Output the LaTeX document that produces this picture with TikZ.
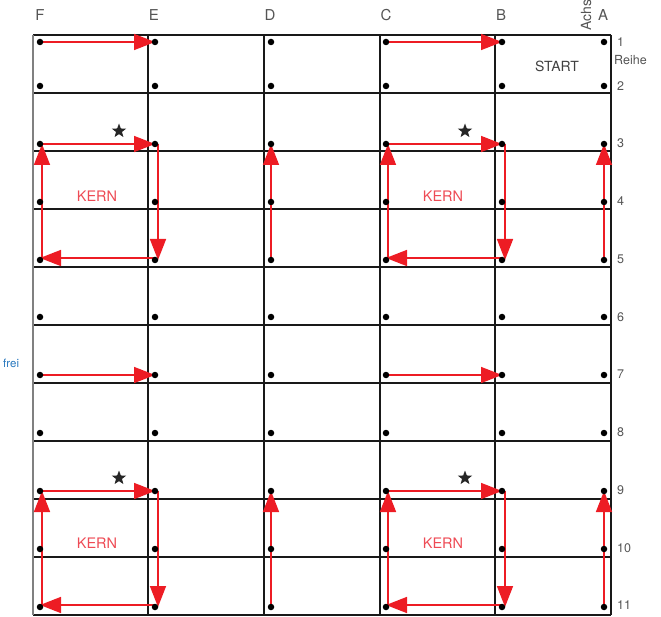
\documentclass[tikz,border=0pt]{standalone}
\usepackage{fontspec}
\setmainfont{TeX Gyre Heros}
\usetikzlibrary{arrows.meta,shapes.geometric}
\pgfdeclarelayer{gridlayer}
\pgfdeclarelayer{arrowlayer}
\pgfsetlayers{gridlayer,arrowlayer,main}
\definecolor{arrred}{RGB}{237,28,36}
\definecolor{kernred}{RGB}{238,75,85}
\definecolor{lblgray}{RGB}{85,85,85}
\definecolor{freiblue}{RGB}{40,120,190}
\begin{document}
\begin{tikzpicture}[x=1pt,y=-1pt,
  dot/.style={circle,fill=black,inner sep=0pt,minimum size=6.5pt},
  arr/.style={draw=arrred,line width=1.6pt,-{Triangle[length=21pt,width=16pt]}},
  gridline/.style={line width=1.7pt,black!90},
  collbl/.style={font=\fontsize{15}{15}\selectfont,text=lblgray},
  rowlbl/.style={font=\fontsize{12.5}{12.5}\selectfont,text=lblgray,anchor=west,inner sep=0pt},
  kern/.style={font=\fontsize{14.5}{14.5}\selectfont,text=kernred},
  starmark/.style={star,star points=5,star point ratio=2.4,minimum size=15pt,inner sep=0pt,fill=black!85}]
\useasboundingbox (0,0) rectangle (661,617);

% grid
\begin{pgfonlayer}{gridlayer}
\foreach \y in {35,93,...,615} \draw[gridline] (33,\y) -- (611,\y);
\foreach \x in {148,264,380,495,611} \draw[gridline] (\x,35) -- (\x,615);
\draw[line width=1.8pt,gray] (33,35) -- (33,615);
\end{pgfonlayer}

% dots
\foreach \c/\x in {F/40,E/155,D/271,C/386,B/502,A/604}{
  \foreach \r/\y in {1/42,2/86,3/144,4/202,5/260,6/317,7/375,8/433,9/491,10/549,11/607}{
    \node[dot] (\c\r) at (\x,\y) {};
  }
}

% arrows
\begin{pgfonlayer}{arrowlayer}
\draw[arr] (F1.center) -- (E1.center);
\draw[arr] (C1.center) -- (B1.center);
\draw[arr] (F7.center) -- (E7.center);
\draw[arr] (C7.center) -- (B7.center);
\foreach \t/\b in {3/5,9/11}{
  \draw[arr] (F\t.center) -- (E\t.center);
  \draw[arr] ([xshift=3pt]E\t.center) -- ([xshift=3pt]E\b.center);
  \draw[arr] ([yshift=2pt]E\b.center) -- ([yshift=2pt]F\b.center);
  \draw[arr] ([xshift=2pt]F\b.center) -- ([xshift=2pt]F\t.center);
  \draw[arr] (C\t.center) -- (B\t.center);
  \draw[arr] ([xshift=3pt]B\t.center) -- ([xshift=3pt]B\b.center);
  \draw[arr] ([yshift=2pt]B\b.center) -- ([yshift=2pt]C\b.center);
  \draw[arr] ([xshift=2pt]C\b.center) -- ([xshift=2pt]C\t.center);
  \draw[arr] (D\b.center) -- (D\t.center);
  \draw[arr] (A\b.center) -- (A\t.center);
}
\end{pgfonlayer}

% stars
\node[starmark] (st1) at (119,131) {};
\node[starmark] (st2) at (465,131) {};
\node[starmark] (st3) at (119,478) {};
\node[starmark] (st4) at (465,478) {};

% KERN labels
\node[kern] (k1) at (97,196) {KERN};
\node[kern] (k2) at (443,196) {KERN};
\node[kern] (k3) at (97,543) {KERN};
\node[kern] (k4) at (443,543) {KERN};

% START
\node[font=\fontsize{14}{14}\selectfont,text=black!75] (start) at (557,66) {START};

% column labels
\foreach \c/\x in {F/40,E/154,D/270,C/386,B/501,A/603}{
  \node[collbl] (lbl\c) at (\x,15) {\c};
}
\node[rotate=90,anchor=base west,inner sep=0pt,font=\fontsize{14}{14}\selectfont,text=lblgray] (achse) at (591,31) {Achse};

% row labels
\foreach \r/\y in {1/42,2/86,3/143,4/201,5/259,6/317,7/374,8/432,9/490,10/548,11/605}{
  \node[rowlbl] (row\r) at (617,\y) {\r};
}
\node[rowlbl] (reihe) at (614,60) {Reihe};

% frei
\node[anchor=west,inner sep=0pt,font=\fontsize{11.5}{11.5}\selectfont,text=freiblue] (frei) at (3,363) {frei};
\end{tikzpicture}
\end{document}
